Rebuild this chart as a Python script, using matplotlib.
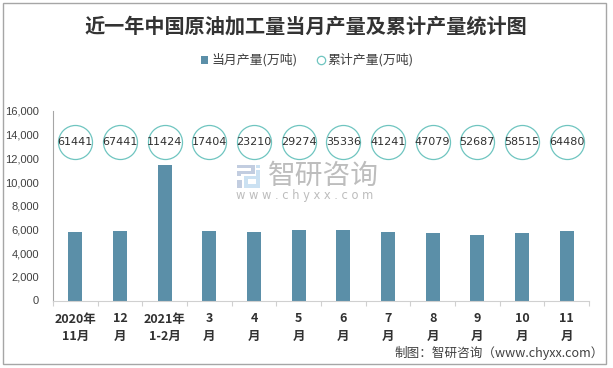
import matplotlib
matplotlib.use('Agg')
import matplotlib.pyplot as plt
from matplotlib.patches import Rectangle

plt.rcParams['font.family'] = ['Noto Sans CJK SC', 'DejaVu Sans']

W, H = 613, 368

months = ['2020年\n11月', '12\n月', '2021年\n1-2月', '3\n月', '4\n月', '5\n月',
          '6\n月', '7\n月', '8\n月', '9\n月', '10\n月', '11\n月']
monthly = [5750, 5880, 11424, 5880, 5750, 5970, 5970, 5800, 5720, 5560, 5720, 5900]
cumulative = [61441, 67441, 11424, 17404, 23210, 29274, 35336, 41241, 47079, 52687, 58515, 64480]
# the circles sit on one flat level in the original, not on their real value
circle_level = [13400] * 12
yticks = [0, 2000, 4000, 6000, 8000, 10000, 12000, 14000, 16000]

BAR = '#5b8fa8'
CIRCLE = '#6fc5c0'
TEXT = '#404040'
LOGO_GREY = '#c2cde0'
LOGO_BLUE = '#cbe1f2'
MARK = '#bdbdbd'


def px_rect(x0, y0, x1, y1, **kw):
    # rectangle given in picture pixels, y counted from the top
    return Rectangle((x0 / W, 1 - y1 / H), (x1 - x0) / W, (y1 - y0) / H,
                     transform=fig.transFigure, **kw)


fig = plt.figure(figsize=(W / 100, H / 100), dpi=100)
fig.patch.set_facecolor('white')

# outer border
fig.add_artist(px_rect(3, 3, 606, 364, fill=False, edgecolor='#a6a6a6', linewidth=1))

ax = fig.add_axes([53 / W, 1 - 300.5 / H, 536 / W, 189.5 / H])
ax.patch.set_alpha(0)
x = list(range(len(months)))
ax.bar(x, monthly, width=0.313, color=BAR, zorder=2)
ax.plot(x, circle_level, linestyle='none', marker='o', markersize=24.5, markerfacecolor='none',
        markeredgecolor=CIRCLE, markeredgewidth=0.9, zorder=3)
for xi, yi, val in zip(x, circle_level, cumulative):
    ax.text(xi, yi, str(val), ha='center', va='center', fontsize=8, color='#303030',
            family=['DejaVu Sans'], zorder=4)

ax.set_xlim(-0.5, 11.5)
ax.set_ylim(0, 16000)
ax.set_yticks(yticks)
ax.set_yticklabels([f'{v:,}' for v in yticks], fontsize=8, color=TEXT, family=['Liberation Sans'])
ax.set_xticks([i - 0.5 for i in range(13)])
ax.set_xticklabels([])
ax.tick_params(axis='y', length=0, pad=10)
ax.tick_params(axis='x', length=3.5, color='#d0d0d0', direction='out')
for side in ['top', 'right']:
    ax.spines[side].set_visible(False)
ax.spines['left'].set_color('#a6a6a6')
ax.spines['bottom'].set_color('#d0d0d0')

for xi, lab in zip(x, months):
    top, bottom = lab.split('\n')
    ax.annotate(top, (xi, 0), xytext=(0, -18.5), textcoords='offset pixels', ha='center', va='center',
                fontsize=9, fontweight='bold', color='#303030')
    ax.annotate(bottom, (xi, 0), xytext=(0, -36), textcoords='offset pixels', ha='center', va='center',
                fontsize=9, fontweight='bold', color='#303030')

fig.text(306 / W, 1 - 26 / H, '近一年中国原油加工量当月产量及累计产量统计图', ha='center', va='center',
         fontsize=14.5, fontweight='bold', color='#333333')

# legend
fig.add_artist(px_rect(201, 56, 208, 64, facecolor=BAR, edgecolor='none'))
fig.text(211 / W, 1 - 60 / H, '当月产量(万吨)', ha='left', va='center', fontsize=9.3, color=TEXT)
fig.add_artist(plt.Line2D([321 / W], [1 - 60 / H], transform=fig.transFigure, marker='o', markersize=6,
                          markerfacecolor='white', markeredgecolor=CIRCLE, markeredgewidth=0.9))
fig.text(327 / W, 1 - 60 / H, '累计产量(万吨)', ha='left', va='center', fontsize=9.3, color=TEXT)

# watermark logo
for box in [(237, 165, 255, 168), (251, 165, 255, 174), (241, 171, 255, 174), (237, 171, 241, 176),
            (237, 180, 242, 188)]:
    fig.add_artist(px_rect(*box, facecolor=LOGO_GREY, edgecolor='none'))
for box in [(256, 165, 260, 168), (256, 170, 260, 188), (244, 176, 260, 179), (244, 176, 248, 188),
            (244, 184, 260, 188)]:
    fig.add_artist(px_rect(*box, facecolor=LOGO_BLUE, edgecolor='none'))
fig.text(268 / W, 1 - 176 / H, '智研咨询', ha='left', va='center', fontsize=20, color=MARK)
fig.text(236 / W, 1 - 196 / H, 'w w w . c h y x x . c o m', ha='left', va='center', fontsize=8.3,
         color=MARK, family=['DejaVu Sans'])

fig.text(603.5 / W, 1 - 353 / H, '制图：智研咨询（www.chyxx.com）', ha='right', va='center', fontsize=9.05,
         color=TEXT)

fig.savefig('out.png', dpi=100)
